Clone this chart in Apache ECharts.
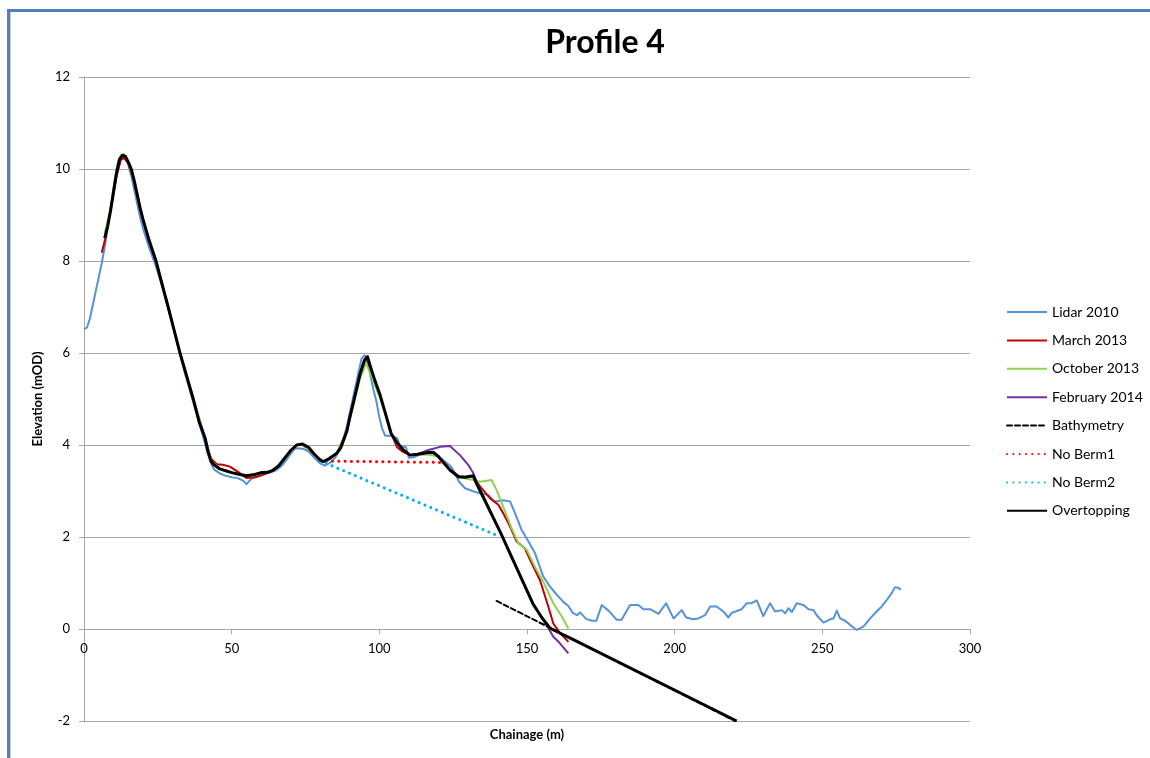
<!DOCTYPE html>
<html>
<head>
<meta charset="utf-8">
<script src="https://cdn.jsdelivr.net/npm/echarts@6/dist/echarts.min.js"></script>
<style>
html,body{margin:0;padding:0;background:#fff;}
#chart{width:1150px;height:758px;}
</style>
</head>
<body>
<div id="chart"></div>
<script>
// ---- data (chainage m, elevation mOD) ----
const xTicks = [0, 50, 100, 150, 200, 250, 300];
const yTicks = [-2, 0, 2, 4, 6, 8, 10, 12];

const lidar2010 = [
[0,6.52],[1,6.55],[2,6.75],[3,7.05],[4,7.35],[5,7.65],[6,7.95],[7,8.3],[8,8.7],[9,9.15],[10,9.6],[11,10.0],[12,10.25],[13,10.3],[14,10.25],[15,10.1],[16,9.85],[17,9.55],[18,9.25],[19,8.95],[20,8.7],[22,8.3],[24,7.95],[26,7.55],[28,7.1],[30,6.6],[32,6.1],[34,5.6],[36,5.15],[38,4.7],[40,4.25],[42,3.8],[43,3.6],[44,3.47],[46,3.38],[48,3.33],[50,3.3],[52,3.28],[54,3.22],[55,3.15],[56,3.22],[57,3.28],[59,3.32],[61,3.37],[63,3.4],[65,3.45],[67,3.55],[69,3.72],[71,3.9],[72,3.93],[74,3.92],[76,3.86],[78,3.72],[80,3.6],[81.5,3.55],[83,3.6],[85,3.72],[87,3.95],[89,4.4],[91,5.0],[93,5.6],[94,5.88],[95,5.95],[96,5.85],[97,5.5],[98,5.2],[99,4.95],[100,4.6],[101,4.35],[102,4.2],[104,4.2],[106,4.15],[107,3.98],[109,3.95],[110,3.72],[112,3.74],[114,3.8],[116,3.8],[118,3.82],[120,3.75],[122,3.65],[124,3.55],[125,3.46],[127,3.2],[129,3.06],[132,2.99],[134,2.95],[137,2.91],[139,2.77],[142,2.8],[144.3,2.77],[146,2.51],[148.2,2.15],[150.5,1.9],[152.7,1.65],[155.5,1.14],[157.8,0.92],[160,0.75],[162.3,0.59],[164,0.5],[165.5,0.35],[167,0.3],[168,0.36],[170,0.22],[172,0.18],[173.5,0.18],[175.3,0.52],[177.6,0.4],[180.4,0.2],[182,0.2],[184.9,0.52],[187.7,0.52],[189.4,0.43],[191.7,0.43],[194.5,0.33],[197.1,0.56],[199.6,0.23],[202.4,0.41],[203.9,0.25],[206.3,0.21],[208,0.23],[210.3,0.3],[212,0.49],[214.2,0.49],[216.5,0.38],[218.2,0.25],[219.3,0.35],[222.7,0.43],[224.4,0.56],[226,0.56],[227.8,0.62],[230,0.28],[232.3,0.56],[234,0.38],[236.3,0.41],[237.4,0.34],[238.5,0.45],[239.7,0.37],[241.3,0.56],[243.6,0.52],[245.3,0.43],[247,0.41],[248.1,0.3],[250.4,0.14],[252.6,0.21],[253.8,0.23],[254.9,0.4],[256,0.23],[257.7,0.18],[259.4,0.09],[261.6,-0.02],[263.9,0.05],[266.2,0.23],[268.4,0.38],[270.1,0.49],[271.8,0.63],[273.5,0.78],[274.6,0.91],[275.8,0.89],[276.6,0.85]
];

const march2013 = [
[6,8.18],[7.1,8.46],[9,9.1],[11,9.85],[12.5,10.2],[13.5,10.24],[15,10.12],[17,9.7],[20,8.9],[24.4,8.0],[28.5,7.0],[32.5,6.0],[37,5.0],[41,4.15],[43,3.7],[45,3.58],[47,3.57],[49.4,3.53],[52,3.42],[55.1,3.28],[58,3.3],[60.6,3.35],[63,3.42],[66,3.55],[70,3.88],[72,4.0],[74,4.0],[78,3.8],[81,3.64],[85.6,3.82],[89,4.3],[93.5,5.55],[95.5,5.9],[98.5,5.4],[102,4.7],[104,4.25],[106,3.95],[108,3.85],[110.4,3.78],[116,3.83],[118.3,3.84],[120,3.75],[122,3.6],[124,3.45],[127.3,3.31],[131.8,3.31],[134.1,3.1],[137.5,2.84],[140.3,2.7],[142,2.51],[144.3,2.22],[146.5,1.9],[149.3,1.75],[151.6,1.43],[154.4,1.06],[157.2,0.49],[158.9,0.12],[161.2,-0.09],[164,-0.28]
];

const october2013 = [
[7,8.6],[9,9.15],[11,9.9],[12.5,10.3],[13.5,10.32],[15,10.15],[17,9.72],[20,8.9],[24.4,8.0],[28.5,7.0],[32.5,6.0],[37,5.0],[41,4.15],[43,3.66],[46,3.48],[50,3.4],[55,3.33],[60,3.4],[64,3.45],[68,3.72],[72,4.0],[74,4.0],[78,3.8],[81,3.64],[85.6,3.82],[89,4.3],[93.5,5.45],[95.5,5.78],[97,5.55],[100,5.05],[102,4.7],[104,4.25],[106,4.02],[110.4,3.78],[116,3.8],[120,3.75],[124,3.45],[127,3.3],[131.8,3.24],[134.1,3.2],[138,3.24],[139.7,3.02],[142.6,2.55],[144.8,2.19],[147.1,1.86],[149.9,1.72],[152.7,1.35],[155.5,1.03],[158.9,0.56],[161.8,0.27],[164,0.01]
];

const february2014 = [
[112,3.78],[116.6,3.89],[120.6,3.96],[123.9,3.98],[127.3,3.78],[130.1,3.57],[131.8,3.39],[133,3.2],[141,2.1],[152,0.55],[155,0.25],[157,0.05],[158.9,-0.17],[161,-0.3],[164,-0.53]
];

const bathymetry = [[139.7,0.61],[220.5,-2.0]];
const noBerm1 = [[82,3.65],[122,3.62]];
const noBerm2 = [[82,3.6],[140,2.03]];

const overtopping = [
[7,8.5],[8,8.75],[9,9.1],[10,9.5],[11,9.9],[12,10.2],[13,10.3],[14,10.28],[15,10.15],[16,10.0],[17,9.75],[18,9.45],[19,9.15],[20,8.9],[22,8.45],[24.4,8.0],[26,7.6],[28.5,7.0],[30.5,6.5],[32.5,6.0],[35,5.45],[37,5.0],[39,4.5],[41,4.15],[42,3.85],[43,3.65],[44,3.57],[46,3.48],[48,3.44],[50,3.4],[52,3.37],[55,3.33],[58,3.36],[60,3.4],[62,3.4],[64,3.45],[66,3.55],[68,3.72],[70,3.88],[72,4.0],[74,4.02],[76,3.95],[78,3.8],[80,3.67],[81,3.64],[83,3.7],[85.6,3.82],[87,3.95],[89,4.3],[90,4.6],[91.5,5.0],[93.5,5.55],[95,5.85],[96,5.92],[97,5.7],[98.5,5.4],[100.2,5.1],[102,4.7],[104,4.25],[106,4.05],[108,3.9],[110.4,3.78],[113,3.8],[116,3.83],[118.3,3.84],[120,3.75],[122,3.6],[124,3.45],[126.8,3.31],[129,3.3],[131.8,3.33],[133,3.15],[141,2.1],[152,0.55],[155,0.25],[157.8,0.02],[160,-0.05],[162.3,-0.13],[165,-0.21],[221,-2.0]
];

const seriesNames = ['Lidar 2010','March 2013','October 2013','February 2014','Bathymetry','No Berm1','No Berm2','Overtopping'];

// ---- chart ----
const chart = echarts.init(document.getElementById('chart'), null, {renderer:'canvas'});
const FONT = 'Lato, "Liberation Sans", sans-serif';

function lineSeries(name, data, color, width, type){
  return {
    name: name, type: 'line', data: data, symbol: 'none', showSymbol: false,
    clip: true, animation: false,
    lineStyle: {color: color, width: width, type: type || 'solid', cap: type ? 'round':'butt', join: 'round'},
    itemStyle: {color: color},
    emphasis: {disabled: true}
  };
}

const option = {
  backgroundColor: '#ffffff',
  animation: false,
  title: {
    text: 'Profile 4', left: 600, textAlign: 'center', top: 22,
    textStyle: {fontFamily: FONT, fontSize: 32, fontWeight: 'bold', color: '#000'}
  },
  grid: {left: 84, right: 180, top: 77, bottom: 37, containLabel: false},
  legend: {
    orient: 'vertical', left: 1001, top: 300,
    itemWidth: 40, itemHeight: 14, itemGap: 14.4,
    data: seriesNames,
    itemStyle: {opacity: 0},
    textStyle: {fontFamily: FONT, fontSize: 14, color: '#000'}
  },
  xAxis: {
    type: 'value', min: xTicks[0], max: xTicks[xTicks.length-1], interval: 50,
    offset: -92,
    axisLine: {onZero: false, lineStyle: {color: '#A6A6A6', width: 1}},
    axisTick: {show: true, length: 5, lineStyle: {color: '#A6A6A6'}},
    axisLabel: {fontFamily: FONT, fontSize: 13, color: '#000', margin: 13},
    splitLine: {show: false}
  },
  yAxis: {
    type: 'value', min: yTicks[0], max: yTicks[yTicks.length-1], interval: 2,
    name: 'Elevation (mOD)', nameLocation: 'middle', nameGap: 36,
    nameTextStyle: {fontFamily: FONT, fontSize: 13, fontWeight: 'bold', color: '#000'},
    axisLine: {show: true, lineStyle: {color: '#A6A6A6', width: 1}},
    axisTick: {show: true, length: 5, lineStyle: {color: '#A6A6A6'}},
    axisLabel: {fontFamily: FONT, fontSize: 13, color: '#000', margin: 14},
    splitLine: {show: true, lineStyle: {color: '#A6A6A6', width: 1}}
  },
  graphic: [
    {type: 'rect', left: 7, top: 9, shape: {width: 1143, height: 3}, style: {fill: '#4F81BD'}, silent: true},
    {type: 'rect', left: 7, top: 9, shape: {width: 3, height: 749}, style: {fill: '#4F81BD'}, silent: true},
    {type: 'rect', left: 10, top: 12, shape: {width: 1, height: 746}, style: {fill: '#C8C8C8'}, silent: true},
    {type: 'text', x: 527, y: 735,
     style: {text: 'Chainage (m)', font: 'bold 13px ' + FONT, fill: '#000', align: 'center', verticalAlign: 'middle'},
     silent: true}
  ],
  series: [
    lineSeries(seriesNames[0], lidar2010, '#5592D8', 2),
    lineSeries(seriesNames[1], march2013, '#C00000', 2),
    lineSeries(seriesNames[2], october2013, '#92D050', 2),
    lineSeries(seriesNames[3], february2014, '#7030A0', 2),
    lineSeries(seriesNames[4], bathymetry, '#000000', 2, [5,3]),
    lineSeries(seriesNames[5], noBerm1, '#FF0000', 3, [0.1,6.2]),
    lineSeries(seriesNames[6], noBerm2, '#00B0F0', 3, [0.1,6.2]),
    lineSeries(seriesNames[7], overtopping, '#000000', 3)
  ]
};
chart.setOption(option);
</script>
</body>
</html>
